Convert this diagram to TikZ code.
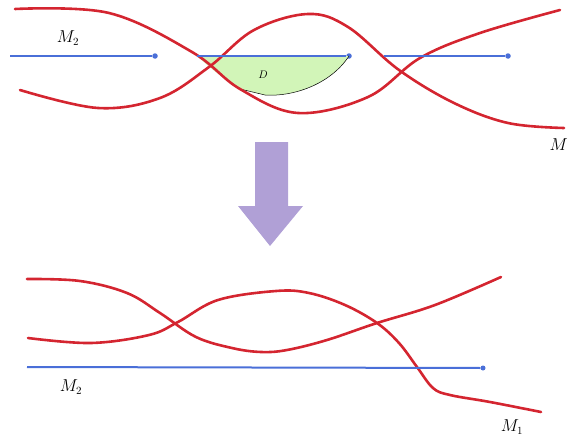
\documentclass[tikz,border=0pt]{standalone}
\usepackage{tikz}
\usetikzlibrary{positioning}
\definecolor{curvered}{HTML}{D42530}
\definecolor{lineblue}{HTML}{4A6FD8}
\definecolor{regiongreen}{HTML}{D2F5B8}
\definecolor{arrowlilac}{HTML}{B0A0D6}

\begin{document}
\begin{tikzpicture}[x=1pt,y=-1pt,
    rc/.style={draw=curvered,line width=2.6pt,line cap=round},
    bl/.style={draw=lineblue,line width=2.6pt},
    dot/.style={circle,fill=lineblue,inner sep=0pt,minimum size=5.5pt},
    lbl/.style={font=\fontsize{16}{18}\selectfont}]
    \useasboundingbox (0,0) rectangle (569,439);
    % top picture
    \coordinate (a1) at (10,56);
    \node[dot] (e1) at (155,56) {};
    \coordinate (a2) at (197,56);
    \node[dot] (e2) at (349,56) {};
    \coordinate (a3) at (384,56);
    \node[dot] (e3) at (508,56) {};
    \fill[regiongreen] (a2) -- (e2.center) .. controls (330,85) and (292,97) .. (265,95)
      -- (240,89) .. controls (222,78) and (208,66) .. (a2);
    \draw[black,line width=0.5pt] (e2.center) .. controls (330,85) and (292,97) .. (265,95) -- (240,89);
    \draw[rc] plot[smooth,tension=0.6] coordinates {(15,9) (109,13) (192,52) (240,89)
      (298,113) (368,97) (420,58) (480,33) (560,10)};
    \draw[rc] plot[smooth,tension=0.6] coordinates {(20,90) (98,108) (160,98) (209,67) (254,30)
      (308,14) (348,27) (399,70) (454,103) (508,123) (564,128)};
    \draw[bl] (a1) -- (e1);
    \draw[bl] (a2) -- (e2);
    \draw[bl] (a3) -- (e3);
    \node[lbl] (m2top) at (68,38) {$M_2$};
    \node[lbl,anchor=east,inner xsep=1pt] (m) at (569,145) {$M$};
    \node[font=\fontsize{11}{13}\selectfont] (d) at (263,75) {$D$};
    % arrow
    \fill[arrowlilac] (255,142) -- (288,142) -- (288,206) -- (303,206) -- (270,246)
      -- (238,206) -- (255,206) -- cycle;
    % bottom picture
    \draw[rc] plot[smooth,tension=0.6] coordinates {(27,279) (80,281) (127,293) (160,313)
      (196,337) (232,348) (261,352) (287,350) (327,340) (377,323) (435,305) (501,277)};
    \draw[rc] plot[smooth,tension=0.6] coordinates {(28,338) (91,343) (149,335) (178,322)
      (218,300) (276,291) (309,293) (345,305) (377,323) (399,343) (417,367) (433,388)
      (450,395) (490,402) (541,412)};
    \coordinate (b1) at (27,367);
    \node[dot,minimum size=5pt] (f1) at (483,368) {};
    \draw[bl,line width=2pt] (b1) -- (f1);
    \node[lbl] (m2bot) at (71,387) {$M_2$};
    \node[lbl] (m1) at (512,427) {$M_1$};
\end{tikzpicture}
\end{document}
